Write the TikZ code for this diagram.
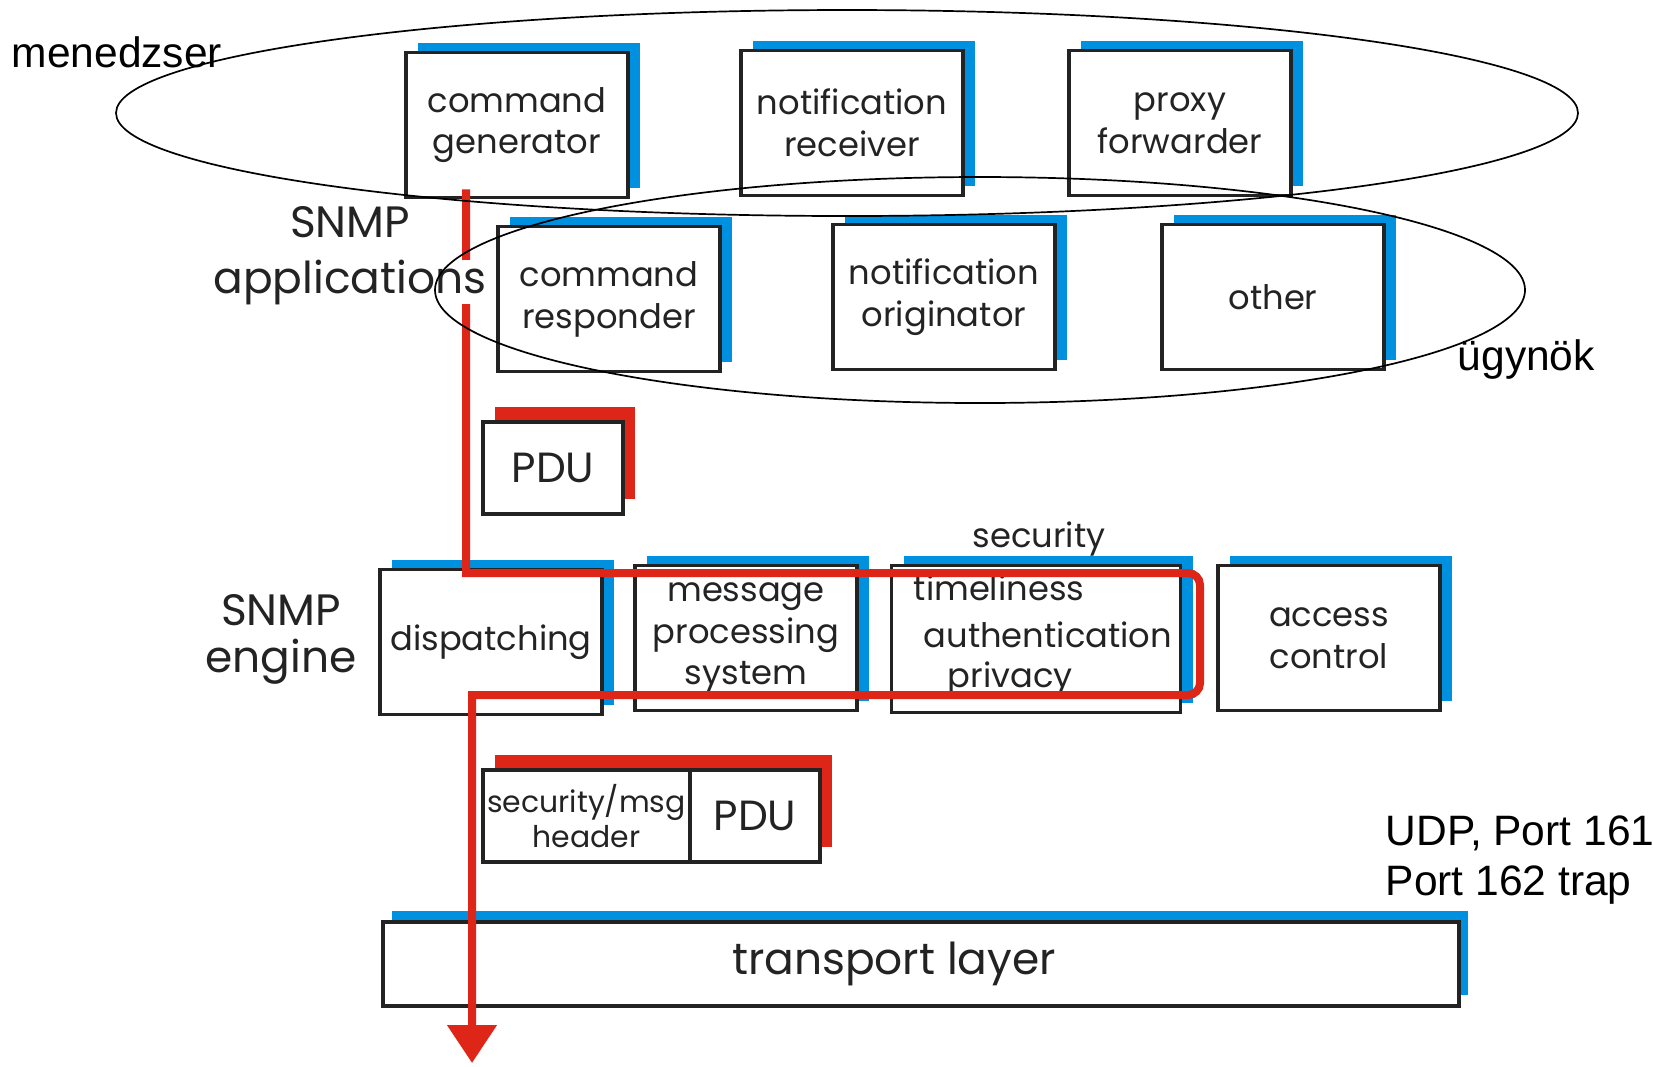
\documentclass[tikz,border=0pt]{standalone}
\usepackage{fontspec}
\setmainfont{Poppins}
\newfontfamily\labelfont{Liberation Sans}
\usetikzlibrary{arrows.meta,calc,shapes.geometric}

\definecolor{layerblue}{RGB}{0,144,224}
\definecolor{flowred}{RGB}{222,38,24}
\definecolor{ink}{RGB}{35,35,35}

\tikzset{
  backplate/.style n args={3}{preaction={fill=#1, draw=none, transform canvas={shift={(#2,#3)}}}},
  modbox/.style={draw=ink, line width=0.35mm, fill=white, inner sep=0pt,
    minimum width=22.2mm, minimum height=14.5mm, align=center, text=ink,
    font=\fontsize{9.6}{11.9}\selectfont, backplate={layerblue}{1.2mm}{1.0mm}},
  pdubox/.style={draw=ink, line width=0.35mm, fill=white, inner sep=0pt,
    minimum height=9.2mm, align=center, text=ink, backplate={flowred}{1.2mm}{1.5mm}},
  layerbar/.style={draw=ink, line width=0.35mm, fill=white, inner sep=0pt,
    text=ink, font=\fontsize{12.5}{13}\selectfont, backplate={layerblue}{0.9mm}{1.1mm}},
  boxline/.style={anchor=base west, inner sep=0pt, text=ink, font=\fontsize{9.6}{11.9}\selectfont},
  sidetitle/.style={anchor=base, inner sep=0pt, text=ink, font=\fontsize{12.5}{13}\selectfont},
  labeltext/.style={anchor=base west, inner sep=0pt, text=black, font=\labelfont\fontsize{12.1}{13}\selectfont},
  ringgroup/.style={draw=black, line width=0.17mm, ellipse, inner sep=0pt},
  flowpath/.style={draw=flowred, line width=0.8mm, -{Triangle[width=4.8mm,length=3.8mm]}},
}

\begin{document}
\begin{tikzpicture}[x=0.1mm, y=-0.1mm]
\useasboundingbox[fill=white] (0,0) rectangle (1653,1066);

% SNMP applications
\node[modbox] (cmdgen)  at (517,125)  {command\\generator};
\node[modbox] (notrecv) at (852,123)  {notification\\receiver};
\node[modbox] (proxy)   at (1180,123) {proxy\\forwarder};
\node[modbox] (cmdresp) at (609,299)  {command\\responder};
\node[modbox] (notorig) at (944,297)  {notification\\originator};
\node[modbox] (other)   at (1273,297) {other};

\node[pdubox, minimum width=14mm, font=\fontsize{12}{12}\selectfont] (apppdu) at (553,468) {PDU};

% SNMP engine
\node[modbox] (dispatch) at (491,642) {dispatching};
\node[modbox] (msgproc) at (746,638) {message\\processing\\system};
\node[modbox, minimum width=28.9mm, minimum height=14.7mm] (secbox) at (1036,639) {};
\node[modbox] (access) at (1329,638) {access\\control};

\node[boxline] (timel) at (913,600) {timeliness};
\node[boxline] (authn) at (923,647) {authentication};
\node[boxline] (priv)  at (947,687) {privacy};

% message handed to the transport
\node[pdubox, minimum width=20.7mm, font=\fontsize{8.5}{10}\selectfont] (sechdr) at (586.5,816) {security/msg\\header};
\node[pdubox, minimum width=13mm, font=\fontsize{12}{12}\selectfont] (msgpdu) at (755,816) {PDU};

\node[layerbar, minimum width=107.6mm, minimum height=8.4mm] (transport) at (921,964) {transport layer\hspace*{5.4mm}};

% path of a request through the engine
\coordinate (flowstart) at ($(cmdgen.south)+(-51,-10)$);
\coordinate (flowtop)   at (466,573);
\coordinate (flowright) at (1200,573);
\coordinate (flowdown)  at (1200,695);
\coordinate (flowback)  at (472,695);
\coordinate (flowend)   at (472,1063);
\draw[flowpath] (flowstart) -- (flowtop) [rounded corners=1.2mm] -- (flowright) -- (flowdown) [sharp corners] -- (flowback) -- (flowend);

% side titles and notes
\node[sidetitle] (snmpapp1) at (350,237) {SNMP};
\node[sidetitle, fill=white, inner sep=0pt] (snmpapp2) at (350,293) {applications};
\node[sidetitle] (snmpeng1) at (281,625) {SNMP};
\node[sidetitle] (snmpeng2) at (281,672) {engine};
\node[boxline, anchor=base] (seclabel) at (1039,547) {security};

\node[labeltext] (udp161)  at (1385,845) {UDP, Port 161};
\node[labeltext] (trap162) at (1385,895) {Port 162 trap};
\node[labeltext] (manager) at (11,67)    {menedzser};
\node[labeltext] (agent)   at (1457,370) {ügynök};

% manager and agent groupings
\node[ringgroup, minimum width=146.2mm, minimum height=20.6mm] (mgrring)   at (847,113) {};
\node[ringgroup, minimum width=109mm,   minimum height=22.6mm] (agentring) at (980,290) {};
\end{tikzpicture}
\end{document}
